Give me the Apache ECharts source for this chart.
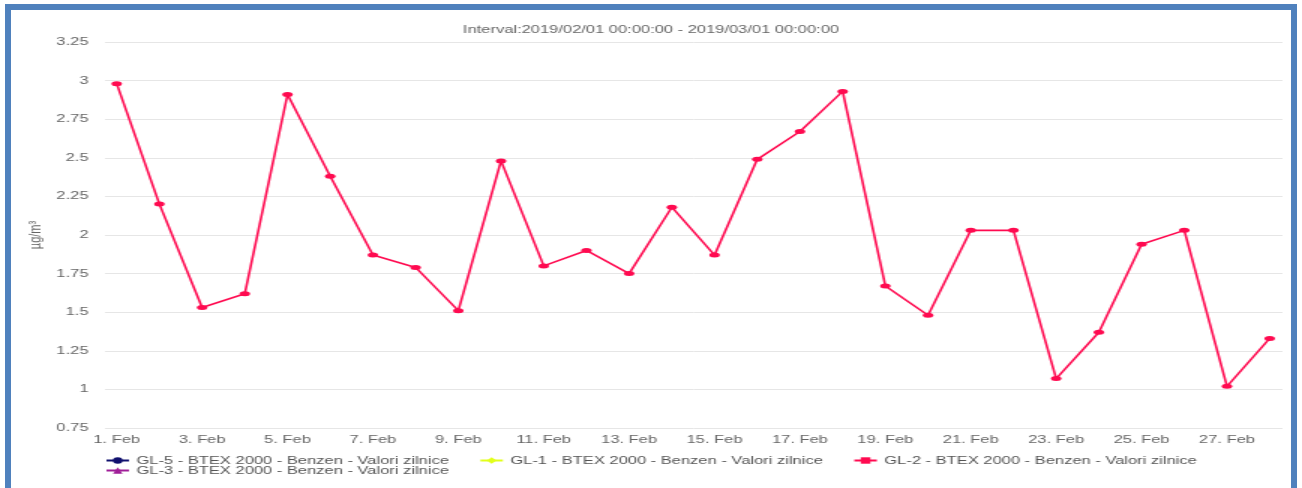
<!DOCTYPE html>
<html>
<head>
<meta charset="utf-8">
<title>GL-2 Benzen</title>
<script src="https://cdn.jsdelivr.net/npm/echarts@6/dist/echarts.min.js"></script>
<style>
  html, body { margin: 0; padding: 0; background: #fff; overflow: hidden; }
  #chart {
    position: absolute; left: 0; top: 0;
    width: 868px; height: 488px;
    transform: scaleX(1.5); transform-origin: 0 0;
  }
  #frame {
    position: absolute; left: 5px; top: 4px;
    width: 1292px; height: 600px;
    box-sizing: border-box;
    border: 6px solid #4f81bd; border-bottom: none;
    pointer-events: none;
  }
</style>
</head>
<body>
<div id="chart"></div>
<div id="frame"></div>
<script>
  // days of February 2019
  const days = [1, 2, 3, 4, 5, 6, 7, 8, 9, 10, 11, 12, 13, 14,
    15, 16, 17, 18, 19, 20, 21, 22, 23, 24, 25, 26, 27, 28]
  const labelDays = [1, 3, 5, 7, 9, 11, 13, 15, 17, 19, 21, 23, 25, 27]

  // daily values, µg/m³
  const gl5 = []
  const gl1 = []
  const gl2 = [2.98, 2.20, 1.53, 1.62, 2.91, 2.38, 1.87, 1.79, 1.51, 2.48,
    1.80, 1.90, 1.75, 2.18, 1.87, 2.49, 2.67, 2.93, 1.67, 1.48,
    2.03, 2.03, 1.07, 1.37, 1.94, 2.03, 1.02, 1.33]
  const gl3 = []

  const names = [
    'GL-5 - BTEX 2000 - Benzen - Valori zilnice',
    'GL-1 - BTEX 2000 - Benzen - Valori zilnice',
    'GL-2 - BTEX 2000 - Benzen - Valori zilnice',
    'GL-3 - BTEX 2000 - Benzen - Valori zilnice'
  ]

  const font = "'Liberation Sans', Arial, sans-serif"

  // points are drawn as round dots, the legend keeps the series symbol
  function pairs(vals) {
    return vals.map((v, i) => ({ value: [days[i], v], symbol: 'circle' }))
  }

  function lineSeries(name, vals, color, symbol) {
    return {
      name: name,
      type: 'line',
      data: pairs(vals),
      symbol: symbol,
      symbolSize: [7, 5],
      showSymbol: true,
      lineStyle: { color: color, width: 1.6 },
      itemStyle: { color: color },
      emphasis: { disabled: true },
      animation: false
    }
  }

  const chart = echarts.init(document.getElementById('chart'))

  chart.setOption({
    backgroundColor: '#fff',
    textStyle: { fontFamily: font },
    title: {
      text: 'Interval:2019/02/01 00:00:00 - 2019/03/01 00:00:00',
      left: 'center',
      top: 24,
      padding: 0,
      textStyle: { fontSize: 11, fontWeight: 'normal', color: '#666', fontFamily: font }
    },
    legend: [
      {
        data: [names[0], names[1], names[2]],
        left: 70,
        top: 455,
        padding: 0,
        itemGap: 20,
        itemWidth: 15,
        itemHeight: 8,
        textStyle: { fontSize: 11, color: '#555', fontFamily: font }
      },
      {
        data: [names[3]],
        left: 70,
        top: 465,
        padding: 0,
        itemWidth: 15,
        itemHeight: 8,
        textStyle: { fontSize: 11, color: '#555', fontFamily: font }
      }
    ],
    grid: { left: 70, right: 13, top: 42, bottom: 60 },
    xAxis: {
      type: 'value',
      min: 0.726,
      max: 28.3,
      splitLine: { show: false },
      axisLine: { show: false },
      axisTick: { show: false },
      axisLabel: {
        customValues: labelDays,
        formatter: v => v + '. Feb',
        fontSize: 11,
        color: '#666',
        margin: 6
      }
    },
    yAxis: {
      type: 'value',
      min: 0.75,
      max: 3.25,
      interval: 0.25,
      name: 'µg/m³',
      nameLocation: 'middle',
      nameGap: 41,
      nameMoveOverlap: false,
      nameTextStyle: { fontSize: 11, color: '#666' },
      axisLine: { show: false },
      axisTick: { show: false },
      axisLabel: { fontSize: 11, color: '#666', margin: 11 },
      splitLine: { lineStyle: { color: '#e6e6e6', width: 1 } }
    },
    series: [
      lineSeries(names[0], gl5, '#10106e', 'circle'),
      lineSeries(names[1], gl1, '#e2ff1a', 'diamond'),
      lineSeries(names[2], gl2, '#ff0a50', 'rect'),
      lineSeries(names[3], gl3, '#a01e98', 'triangle')
    ]
  })
</script>
</body>
</html>
